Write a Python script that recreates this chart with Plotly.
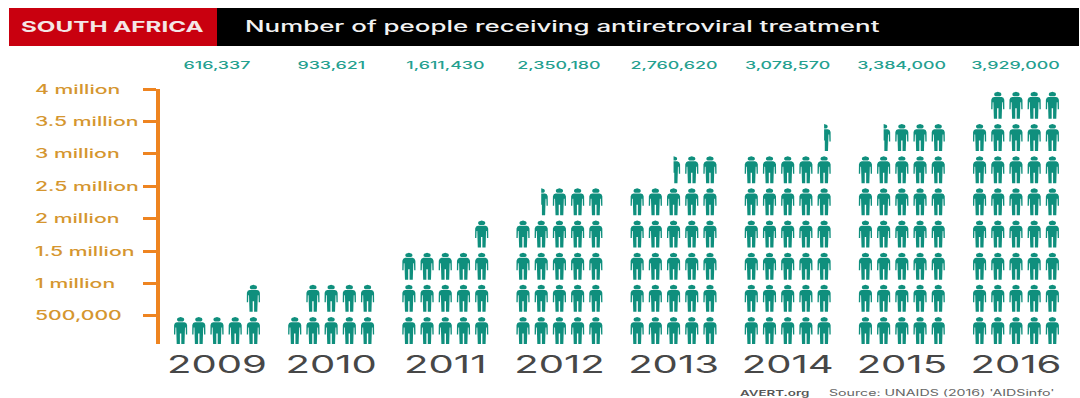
import plotly.graph_objects as go

# People on treatment, South Africa
years = [2009, 2010, 2011, 2012, 2013, 2014, 2015, 2016]
people = [616337, 933621, 1611430, 2350180, 2760620, 3078570, 3384000, 3929000]
tick_values = [500000, 1000000, 1500000, 2000000, 2500000, 3000000, 3500000, 4000000]
tick_labels = ["500,000", "1 million", "1.5 million", "2 million",
               "2.5 million", "3 million", "3.5 million", "4 million"]

PEOPLE_PER_ICON = 100000
ICONS_PER_ROW = 5

# Canvas and plot frame, in pixels
WIDTH, HEIGHT = 1080, 398
PLOT_L, PLOT_R, PLOT_T, PLOT_B = 160, 1080, 89, 344
PX_PER_YEAR = 114.14
PX_PER_PERSON = 32.4 / 500000
X_2009 = 217

x_range = [2009 - (X_2009 - PLOT_L) / PX_PER_YEAR, 2009 + (PLOT_R - X_2009) / PX_PER_YEAR]
y_range = [500000 - (PLOT_B - 316) / PX_PER_PERSON, 4000000]

# Icon grid, in axis units
COL_STEP = 18.2 / PX_PER_YEAR
ROW_STEP = 32.14 / PX_PER_PERSON
FIRST_ROW_TOP = 500000 - 1 / PX_PER_PERSON
ICON_W = 1 / PX_PER_YEAR
ICON_H = 1 / PX_PER_PERSON

# Right half of a pictogram person: offset from its centre line and depth below its top, in px
BODY_HALF = [(0, 5.2), (3.8, 5.2), (5.6, 6.0), (6.5, 8), (6.6, 17.5), (5.3, 17.5), (5.1, 10.5),
             (4.4, 10.5), (3.9, 27), (0.7, 27), (0.7, 16.5), (0, 16.5)]
HEAD_HALF = [(0, 0), (1.7, 0.2), (3.0, 1.0), (3.6, 2.3), (3.4, 3.6), (2.2, 4.4), (0, 4.4)]


def outline(points, top, centre, half):
    """Polygon for a body part, whole or cut down to its right half, in axis units."""
    ring = list(points)
    if not half:
        ring += [(-dx, dy) for dx, dy in reversed(points)]
    xs = [centre + dx * ICON_W for dx, _ in ring]
    ys = [top - dy * ICON_H for _, dy in ring]
    return xs + [xs[0], None], ys + [ys[0], None]


icon_x, icon_y = [], []
for year, count in zip(years, people):
    # Half an icon is the smallest unit shown
    units = int(count / PEOPLE_PER_ICON * 2) / 2
    row = 0
    while units > 0:
        in_row = min(units, ICONS_PER_ROW)
        top = FIRST_ROW_TOP + row * ROW_STEP
        for slot in range(int(in_row + 0.5)):
            column = ICONS_PER_ROW - 1 - slot
            centre = year + (column - 2) * COL_STEP
            half = slot + 1 > in_row
            for part in (BODY_HALF, HEAD_HALF):
                xs, ys = outline(part, top, centre, half)
                icon_x += xs
                icon_y += ys
        units -= in_row
        row += 1

fig = go.Figure()
fig.add_trace(go.Scatter(x=icon_x, y=icon_y, mode="lines", fill="toself",
                         fillcolor="#0f8f7d", line=dict(width=0), cliponaxis=False,
                         hoverinfo="skip", showlegend=False))


def px_x(px):
    return (px - PLOT_L) / (PLOT_R - PLOT_L)


def px_y(py):
    return (PLOT_B - py) / (PLOT_B - PLOT_T)


def band(x0, x1, y0, y1, colour):
    return dict(type="rect", xref="paper", yref="paper", x0=px_x(x0), x1=px_x(x1),
                y0=px_y(y1), y1=px_y(y0), fillcolor=colour, line=dict(width=0), layer="below")


def caption(text, px, py, size, colour, weight=400):
    return dict(text=text, xref="paper", yref="paper", x=px_x(px), y=px_y(py), xanchor="left",
                yanchor="middle", showarrow=False, borderpad=0,
                font=dict(family="Inter", size=size, color=colour, weight=weight))


annotations = [
    caption("SOUTH AFRICA", 20, 26, 14.5, "#f4e6e6", 700),
    caption("Number of people receiving antiretroviral treatment", 244, 26, 15.5, "#f2f2f2", 500),
    caption("AVERT.org", 739, 393, 8, "#555555", 600),
    caption("Source: UNAIDS (2016) 'AIDSinfo'", 828, 393, 8.5, "#666666"),
]
for value, label in zip(tick_values, tick_labels):
    annotations.append(dict(text=label, xref="paper", yref="y", x=px_x(34), y=value,
                            xanchor="left", yanchor="middle", showarrow=False, borderpad=0,
                            font=dict(family="Inter", size=12.7, color="#d5962f", weight=500)))
# Headline figure above each year
for year, count in zip(years, people):
    annotations.append(dict(text=f"{count:,}", xref="x", yref="paper", x=year, y=px_y(65.5),
                            xanchor="center", yanchor="middle", showarrow=False, borderpad=0,
                            font=dict(family="Inter", size=10.7, color="#24a08f", weight=500)))

fig.update_layout(
    width=WIDTH, height=HEIGHT,
    margin=dict(l=PLOT_L, r=WIDTH - PLOT_R, t=PLOT_T, b=HEIGHT - PLOT_B, pad=0),
    paper_bgcolor="white", plot_bgcolor="white",
    shapes=[band(217, 1079, 8, 46, "#000000"), band(9, 217, 8, 46, "#c9000f")],
    annotations=annotations,
    xaxis=dict(range=x_range, tickmode="array", tickvals=years, ticktext=[str(y) for y in years],
               showgrid=False, zeroline=False, showline=False, ticks="", ticklabelstandoff=4,
               tickfont=dict(family="Inter", size=24, color="#474747")),
    yaxis=dict(range=y_range, tickmode="array", tickvals=tick_values, showticklabels=False,
               showgrid=False, zeroline=False, showline=True, linecolor="#ee8420", linewidth=4,
               ticks="outside", ticklen=13, tickwidth=3, tickcolor="#ee8420"),
)

# Widen the lettering to the extended look of the headline type
stretch = """
var k = 1.67;
var notes = document.querySelector('.js-plotly-plot')._fullLayout.annotations;
document.querySelectorAll('.main-svg text').forEach(function (t) {
  var w = t.getComputedTextLength();
  if (!w) { return; }
  t.setAttribute('textLength', w * k);
  t.setAttribute('lengthAdjust', 'spacingAndGlyphs');
  if (t.classList.contains('annotation-text')) {
    var i = Number(t.closest('.annotation').getAttribute('data-index'));
    if (notes[i].xanchor === 'left') {
      t.setAttribute('x', parseFloat(t.getAttribute('x')) + (k - 1) * w / 2);
    }
  }
});
"""
fig.write_html("out.html", post_script=stretch, config=dict(displayModeBar=False))
